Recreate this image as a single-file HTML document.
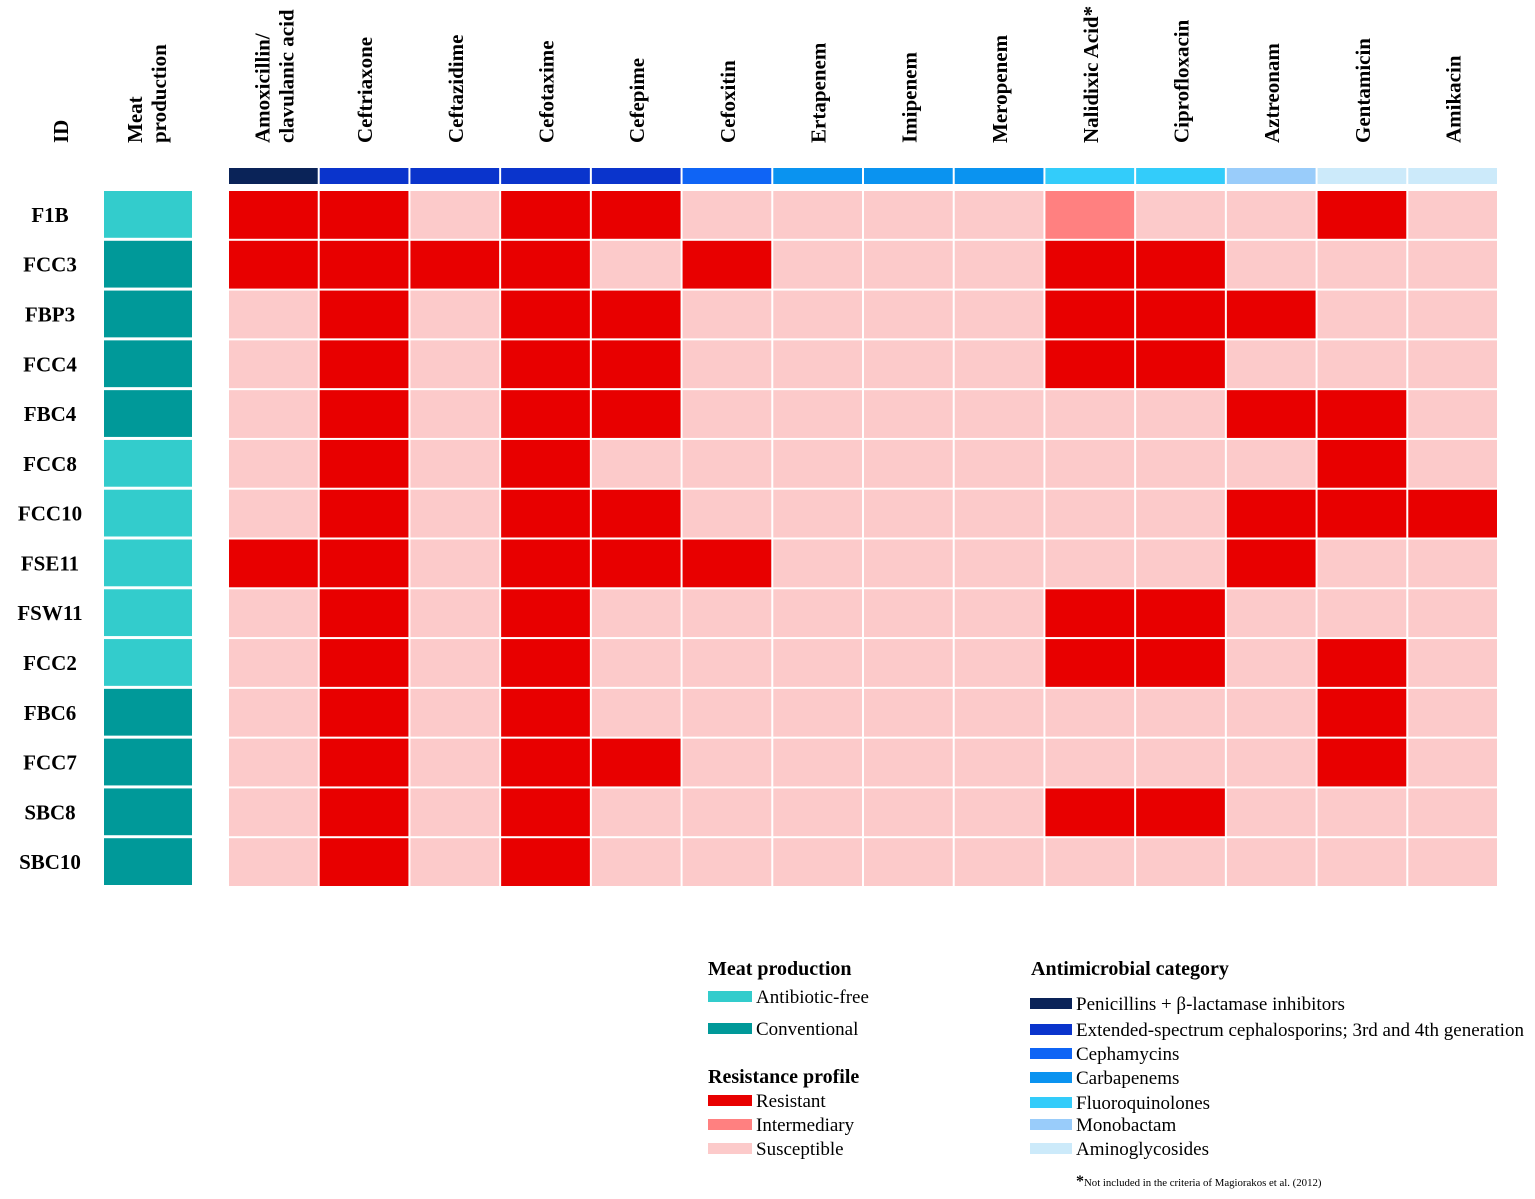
<!DOCTYPE html>
<html><head><meta charset="utf-8"><style>
body{margin:0;background:#fff;}
svg text{font-family:"Liberation Serif",serif;fill:#000;}
</style></head><body>
<svg id="chart" width="1535" height="1194" xmlns="http://www.w3.org/2000/svg"></svg>
<script>
const isolates=["F1B","FCC3","FBP3","FCC4","FBC4","FCC8","FCC10","FSE11","FSW11","FCC2","FBC6","FCC7","SBC8","SBC10"];
const meat=[0,1,1,1,1,0,0,0,0,0,1,1,1,1]; // 0 antibiotic-free, 1 conventional
const drugs=["Amoxicillin/|clavulanic acid","Ceftriaxone","Ceftazidime","Cefotaxime","Cefepime","Cefoxitin","Ertapenem","Imipenem","Meropenem","Nalidixic Acid*","Ciprofloxacin","Aztreonam","Gentamicin","Amikacin"];
const drugCategory=[0,1,1,1,1,2,3,3,3,4,4,5,6,6];
const profile=[
[2,2,0,2,2,0,0,0,0,1,0,0,2,0],
[2,2,2,2,0,2,0,0,0,2,2,0,0,0],
[0,2,0,2,2,0,0,0,0,2,2,2,0,0],
[0,2,0,2,2,0,0,0,0,2,2,0,0,0],
[0,2,0,2,2,0,0,0,0,0,0,2,2,0],
[0,2,0,2,0,0,0,0,0,0,0,0,2,0],
[0,2,0,2,2,0,0,0,0,0,0,2,2,2],
[2,2,0,2,2,2,0,0,0,0,0,2,0,0],
[0,2,0,2,0,0,0,0,0,2,2,0,0,0],
[0,2,0,2,0,0,0,0,0,2,2,0,2,0],
[0,2,0,2,0,0,0,0,0,0,0,0,2,0],
[0,2,0,2,2,0,0,0,0,0,0,0,2,0],
[0,2,0,2,0,0,0,0,0,2,2,0,0,0],
[0,2,0,2,0,0,0,0,0,0,0,0,0,0]];
const categories=["Penicillins + β-lactamase inhibitors","Extended-spectrum cephalosporins; 3rd and 4th generation","Cephamycins","Carbapenems","Fluoroquinolones","Monobactam","Aminoglycosides"];
const catColors=["#0a2358","#0a34cc","#0f64f5","#0a93f0","#33ccfa","#99ccfa","#cceafa"];
const profileLabels=["Susceptible","Intermediary","Resistant"];
const profColors=["#fccaca","#ff8080","#e80000"];
const meatLabels=["Antibiotic-free","Conventional"];
const meatColors=["#33cccc","#009999"];

const svg=document.getElementById('chart');
const NS="http://www.w3.org/2000/svg";
function el(t,a){const e=document.createElementNS(NS,t);for(const k in a)e.setAttribute(k,a[k]);svg.appendChild(e);return e;}
const x0=228,cw=(1498-228)/drugs.length,y0=190,rh=(887-190)/isolates.length;
const xS=i=>x0+i*cw, yS=r=>y0+r*rh;
const HF=21;

let t=el('text',{x:0,y:0,transform:'translate(68,143) rotate(-90)','font-size':HF,'font-weight':'bold'});
t.textContent='ID';

t=el('text',{x:0,y:0,transform:'translate(166,143) rotate(-90)','font-size':HF,'font-weight':'bold'});

t.innerHTML='<tspan x="0" dy="-24">Meat</tspan><tspan x="0" dy="24">production</tspan>';
drugs.forEach((d,i)=>{
  const cx=xS(i)+cw/2+8;
  const parts=d.split('|');
  const tx=el('text',{transform:`translate(${cx+(parts.length-1)*12},143) rotate(-90)`,'font-size':HF,'font-weight':'bold'});
  
  
  parts.forEach((p,j)=>{const s=document.createElementNS(NS,'tspan');s.setAttribute('x',0);s.setAttribute('dy',j?24:-24*(parts.length-1));s.textContent=p;tx.appendChild(s);});
  const r=el('rect',{x:xS(i)+1,y:168,width:cw-2,height:16,fill:catColors[drugCategory[i]]});
  
  
});
isolates.forEach((id,r)=>{
  const tx=el('text',{x:50,y:yS(r)+rh/2+7,'text-anchor':'middle','font-size':21,'font-weight':'bold'});
  tx.textContent=id;
  
  
  const m=el('rect',{x:104,y:yS(r)+1,width:88,height:rh-3,fill:meatColors[meat[r]]});
  
  
  profile[r].forEach((v,c)=>{
    const e=el('rect',{x:xS(c)+1,y:yS(r)+1,width:cw-2,height:rh-2,fill:profColors[v]});
    
    
  });
});
function head(x,y,s,n){const e=el('text',{x,y,'font-size':20,'font-weight':'bold'});e.textContent=s;}
function item(x,y,w,col,s){
  const r=el('rect',{x,y:y-12,width:w,height:11,fill:col});
  
  
  const e=el('text',{x:x+w+4,y:y,'font-size':19});e.textContent=s;
  
  
}
head(708,975,'Meat production','meat-legend-title');
item(708,1003,44,meatColors[0],meatLabels[0]);
item(708,1035,44,meatColors[1],meatLabels[1]);
head(708,1083,'Resistance profile','resistance-legend-title');
item(708,1107,44,profColors[2],profileLabels[2]);
item(708,1131,44,profColors[1],profileLabels[1]);
item(708,1155,44,profColors[0],profileLabels[0]);
head(1031,975,'Antimicrobial category','category-legend-title');
const cy=[1010,1036,1060,1084,1109,1131,1155];
categories.forEach((c,i)=>item(1030,cy[i],42,catColors[i],c));
const f=el('text',{x:1076,y:1186,'font-size':10.8});
f.innerHTML='<tspan font-size="16" font-weight="bold">*</tspan>Not included in the criteria of Magiorakos et al. (2012)';


</script>
</body></html>
